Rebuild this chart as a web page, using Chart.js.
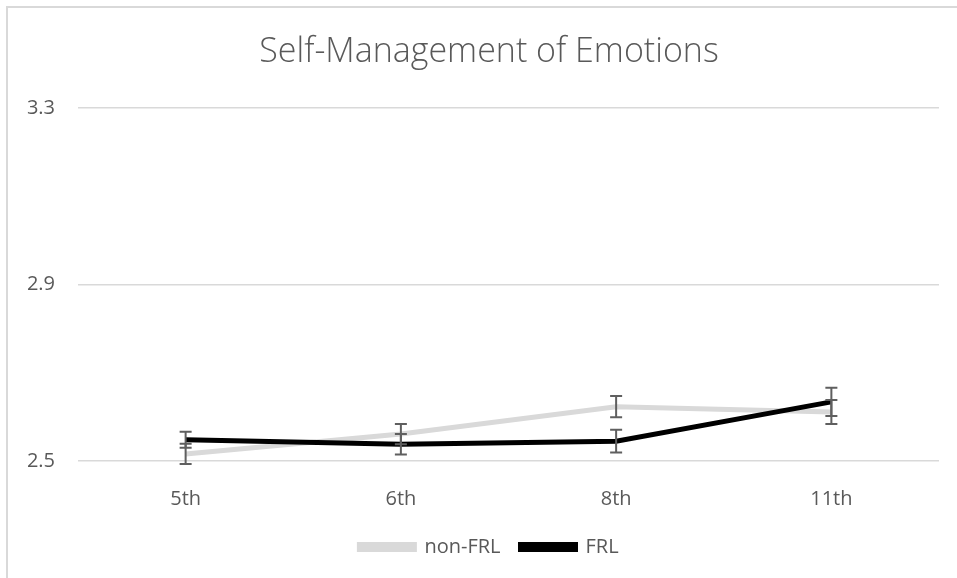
<!DOCTYPE html>
<html>
<head>
<meta charset="utf-8">
<script src="https://cdn.jsdelivr.net/npm/chart.js@4.4.1/dist/chart.umd.min.js"></script>
<style>
  html, body { margin: 0; padding: 0; background: #fff; overflow: hidden; }
  .frame {
    position: absolute; left: 6px; top: 6px;
    width: 1000px; height: 600px;
    border-left: 2px solid #d9d9d9; border-top: 2px solid #d9d9d9;
  }
  .frame canvas { position: absolute; left: 0; top: 0; }
</style>
</head>
<body>
<div class="frame">
  <canvas id="chart" width="946" height="570"></canvas>
</div>
<script>
const grades = ['5th', '6th', '8th', '11th'];
const nonFrl = [2.516, 2.561, 2.623, 2.611];
const nonFrlErr = [0.023, 0.023, 0.024, 0.027];
const frl = [2.548, 2.538, 2.545, 2.634];
const frlErr = [0.018, 0.023, 0.026, 0.032];
const yTicks = [2.5, 2.9, 3.3];

const textColor = '#595959';
const font = "'Open Sans', sans-serif";

// error bars drawn through the chart's own scales
const errorBars = {
  id: 'errorBars',
  afterDatasetsDraw(chart) {
    const ctx = chart.ctx;
    const x = chart.scales.x;
    const y = chart.scales.y;
    ctx.save();
    ctx.strokeStyle = '#5f5f5f';
    ctx.lineWidth = 2;
    chart.data.datasets.forEach(ds => {
      ds.data.forEach((v, i) => {
        const px = x.getPixelForValue(i);
        const top = y.getPixelForValue(v + ds.err[i]);
        const bot = y.getPixelForValue(v - ds.err[i]);
        ctx.beginPath();
        ctx.moveTo(px, top); ctx.lineTo(px, bot);
        ctx.moveTo(px - 6, top); ctx.lineTo(px + 6, top);
        ctx.moveTo(px - 6, bot); ctx.lineTo(px + 6, bot);
        ctx.stroke();
      });
    });
    ctx.restore();
  }
};

new Chart(document.getElementById('chart'), {
  type: 'line',
  data: {
    labels: grades,
    datasets: [
      {
        label: 'non-FRL',
        data: nonFrl,
        err: nonFrlErr,
        borderColor: '#d9d9d9',
        backgroundColor: '#d9d9d9',
        borderWidth: 5,
        pointRadius: 0,
        tension: 0,
        order: 1
      },
      {
        label: 'FRL',
        data: frl,
        err: frlErr,
        borderColor: '#000000',
        backgroundColor: '#000000',
        borderWidth: 5,
        pointRadius: 0,
        tension: 0,
        order: 0
      }
    ]
  },
  options: {
    responsive: false,
    animation: false,
    layout: { padding: { left: 16, right: 0, top: 0, bottom: 11 } },
    plugins: {
      title: {
        display: true,
        text: 'Self-Management of Emotions',
        color: textColor,
        font: { family: font, size: 34, weight: '300' },
        padding: { top: 23.5, bottom: 35.5 }
      },
      legend: {
        position: 'bottom',
        reverse: true,
        labels: {
          color: textColor,
          font: { family: font, size: 20 },
          boxWidth: 55,
          boxHeight: 5,
          padding: 20
        }
      },
      tooltip: { enabled: false }
    },
    scales: {
      x: {
        offset: true,
        grid: { display: false },
        border: { display: false },
        ticks: { color: textColor, font: { family: font, size: 20 }, padding: 18 },
        afterFit(s) { s.height = 56; }
      },
      y: {
        min: 2.5,
        max: 3.3,
        grid: { color: '#d9d9d9', lineWidth: 1.5, drawTicks: false },
        border: { display: false },
        afterBuildTicks(s) { s.ticks = yTicks.map(v => ({ value: v })); },
        ticks: {
          color: textColor,
          font: { family: font, size: 20 },
          padding: 23,
          callback: v => v.toFixed(1)
        },
        afterFit(s) { s.width = 54; }
      },
      // empty right-hand scale, only keeps space at the right of the plot
      yRight: {
        position: 'right',
        grid: { display: false },
        border: { display: false },
        ticks: { display: false },
        afterFit(s) { s.width = 15; }
      }
    }
  },
  plugins: [errorBars]
});
</script>
</body>
</html>
